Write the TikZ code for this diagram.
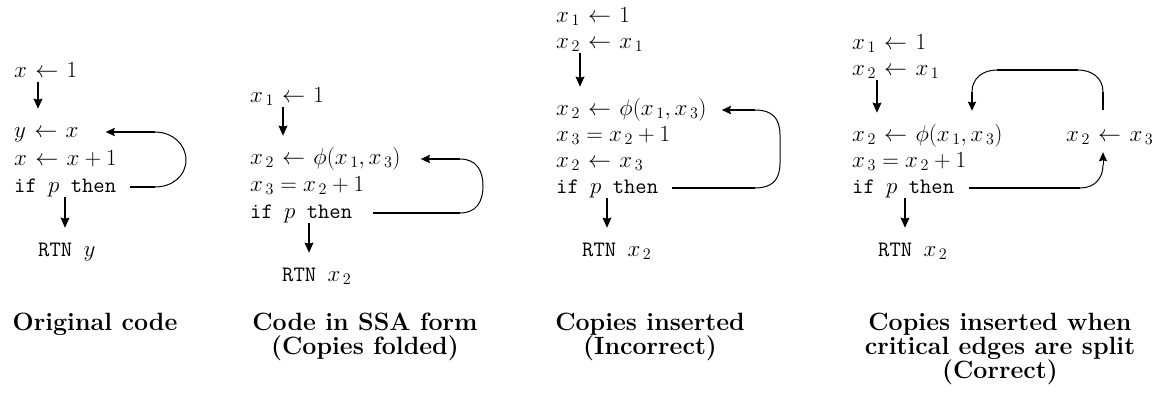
\RequirePackage{fix-cm}
\documentclass[tikz,border=0pt]{standalone}
\usepackage{fontspec}
\usetikzlibrary{arrows.meta}
\newcommand\lar{\mathrel{\mkern1.5mu\leftarrow\mkern1.5mu}}
\newcommand\xs[1]{x_{\kern2.5pt#1}}
\newcommand\ttt[1]{{\fontsize{22}{26}\selectfont\ttfamily #1}}
\tikzset{
  codeline/.style={anchor=base west, inner sep=0pt, text height=15pt, text depth=5pt,
    font=\fontsize{23}{26}\selectfont},
  captext/.style={anchor=north, inner sep=0pt, align=center,
    font=\fontsize{25}{24}\selectfont\bfseries},
  downarrow/.style={line width=2.4pt, -{Stealth[length=10pt,width=8.5pt,inset=1pt]}},
  straightl/.style={line width=2pt},
  curvel/.style={line width=1pt},
  headtip/.style={-{Stealth[length=9pt,width=8pt,inset=1pt]}},
}
\begin{document}
\begin{tikzpicture}[x=1pt,y=-1pt]
\useasboundingbox (0,0) rectangle (1159,394);
% ---------------- Diagram 1 ----------------
\node[codeline] (a1) at (14,77) {$x \lar 1$};
\node[codeline] (a2) at (14,137) {$y \lar x$};
\node[codeline] (a3) at (14,165) {$x \lar x+1$};
\node[codeline] (a4) at (14,192) {\ttt{if }$p$\ttt{ then}};
\node[codeline] (a5) at (38,256) {\ttt{RTN }$y$};
\draw[downarrow,shorten >=13pt] ([xshift=24pt]a1.south west) -- ([xshift=24pt]a2.north west);
\draw[downarrow,shorten >=13pt] ([xshift=51pt]a4.south west) -- ([xshift=51pt]a4.south west |- a5.north);
\coordinate (ac1) at (155,187);
\coordinate (ac2) at (186,160);
\coordinate (ac3) at (155,132);
\draw[straightl] ([xshift=14pt]a4.east) -- (ac1);
\draw[curvel] (ac1) .. controls (172,187) and (186,176) .. (ac2)
  .. controls (186,144) and (172,132) .. (ac3);
\draw[straightl,headtip,shorten >=27pt] (ac3) -- (a2.east);
\node[captext] (t1) at (95,312.5) {Original code};
% ---------------- Diagram 2 ----------------
\node[codeline] (b1) at (250,102) {$\xs1 \lar 1$};
\node[codeline] (b2) at (250,164) {$\xs2 \lar \phi(\xs1,\xs3)$};
\node[codeline] (b3) at (250,191) {$\xs3 = \xs2+1$};
\node[codeline] (b4) at (250,218) {\ttt{if }$p$\ttt{ then}};
\node[codeline] (b5) at (282,281) {\ttt{RTN }$\xs2$};
\draw[downarrow,shorten >=13pt] ([xshift=33pt]b1.south west) -- ([xshift=33pt]b1.south west |- b2.north);
\draw[downarrow,shorten >=13pt] ([xshift=59pt]b4.south west) -- ([xshift=59pt]b4.south west |- b5.north);
\coordinate (bc1) at (460,213);
\coordinate (bc2) at (483,186);
\coordinate (bc3) at (460,159);
\draw[straightl] ([xshift=21pt]b4.east) -- (bc1);
\draw[curvel] (bc1) .. controls (476,213) and (483,202) .. (bc2)
  .. controls (483,170) and (476,159) .. (bc3);
\draw[straightl,headtip,shorten >=20pt] (bc3) -- (b2.east);
\node[captext] (t2) at (365,312.5) {Code in SSA form\\(Copies folded)};
% ---------------- Diagram 3 ----------------
\node[codeline] (c1) at (556,22) {$\xs1 \lar 1$};
\node[codeline] (c2) at (556,48) {$\xs2 \lar \xs1$};
\node[codeline] (c3) at (556,115) {$\xs2 \lar \phi(\xs1,\xs3)$};
\node[codeline] (c4) at (556,141) {$\xs3 = \xs2+1$};
\node[codeline] (c5) at (556,167) {$\xs2 \lar \xs3$};
\node[codeline] (c6) at (556,193) {\ttt{if }$p$\ttt{ then}};
\node[codeline] (c7) at (582,256) {\ttt{RTN }$\xs2$};
\draw[downarrow,shorten >=13pt] ([xshift=24pt]c2.south west) -- ([xshift=24pt]c2.south west |- c3.north);
\draw[downarrow,shorten >=13pt] ([xshift=51pt]c6.south west) -- ([xshift=51pt]c6.south west |- c7.north);
\coordinate (cc1) at (755,188);
\coordinate (cc2) at (780,163);
\coordinate (cc3) at (780,135);
\coordinate (cc4) at (755,110);
\draw[straightl] ([xshift=14pt]c6.east) -- (cc1);
\draw[curvel] (cc1) .. controls (772,188) and (780,180) .. (cc2) -- (cc3)
  .. controls (780,118) and (772,110) .. (cc4);
\draw[straightl,headtip,shorten >=15pt] (cc4) -- (c3.east);
\node[captext] (t3) at (650,312.5) {Copies inserted\\(Incorrect)};
% ---------------- Diagram 4 ----------------
\node[codeline] (d1) at (852,49) {$\xs1 \lar 1$};
\node[codeline] (d2) at (852,75) {$\xs2 \lar \xs1$};
\node[codeline] (d3) at (852,141) {$\xs2 \lar \phi(\xs1,\xs3)$};
\node[codeline] (d4) at (852,167) {$\xs3 = \xs2+1$};
\node[codeline] (d5) at (852,193) {\ttt{if }$p$\ttt{ then}};
\node[codeline] (d6) at (878,256) {\ttt{RTN }$\xs2$};
\node[codeline] (e1) at (1066,141) {$\xs2 \lar \xs3$};
\draw[downarrow,shorten >=13pt] ([xshift=25pt]d2.south west) -- ([xshift=25pt]d2.south west |- d3.north);
\draw[downarrow,shorten >=13pt] ([xshift=53pt]d5.south west) -- ([xshift=53pt]d5.south west |- d6.north);
\coordinate (dc1) at (1080,188);
\coordinate (dc2) at (1103,165);
\draw[straightl] ([xshift=15pt]d5.east) -- (dc1);
\draw[curvel] (dc1) .. controls (1095,188) and (1103,178) .. (dc2);
\draw[curvel,headtip,shorten >=6pt] (dc2) -- (dc2 |- e1.south);
\coordinate (dd1) at (1103,92);
\coordinate (dd2) at (1078,70);
\coordinate (dd3) at (997,70);
\coordinate (dd4) at (972,92);
\draw[straightl,shorten <=16pt] (dd1 |- e1.north) -- (dd1);
\draw[curvel] (dd1) .. controls (1103,78) and (1092,70) .. (dd2);
\draw[straightl] (dd2) -- (dd3);
\draw[curvel] (dd3) .. controls (983,70) and (972,78) .. (dd4);
\draw[straightl,headtip,shorten >=15pt] (dd4) -- (dd4 |- d3.north);
\node[captext] (t4) at (1000,312.5) {Copies inserted when\\critical edges are split\\(Correct)};
\end{tikzpicture}
\end{document}
